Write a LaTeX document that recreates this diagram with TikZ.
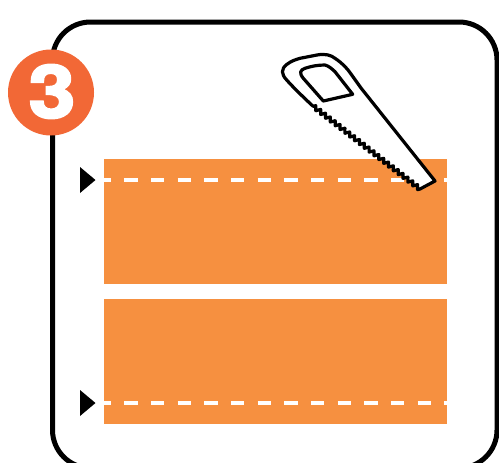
\documentclass[tikz,border=0pt]{standalone}
\usepackage{fontspec}
\newfontfamily\badgefont{TeX Gyre Heros Bold}[FakeBold=3]
\usetikzlibrary{decorations.pathmorphing}
\definecolor{band}{HTML}{F69040}
\definecolor{badge}{HTML}{F26836}
\tikzset{
  x=0.75pt,y=-0.75pt,
  frameline/.style={draw=black,line width=3.75pt,rounded corners=28.5pt},
  bandbox/.style={fill=band,draw=none},
  cutline/.style={draw=white,line width=2.8pt,dash pattern=on 10pt off 10pt,dash phase=4.75pt},
  marker/.style={fill=black,draw=none},
  sawline/.style={draw=black,line width=2.4pt,line join=round,fill=white},
}
\begin{document}
\begin{tikzpicture}
\useasboundingbox (0,0) rectangle (499,462);
\clip (0,0) rectangle (499,462);
\fill[white] (0,0) rectangle (499,462);
\draw[frameline] (52.5,22) rectangle (497,468);
\fill[bandbox] (104,159) rectangle (447,284);
\fill[bandbox] (104,299) rectangle (447,424);
\draw[cutline] (104,180) -- (447,180);
\draw[cutline] (104,403) -- (447,403);
\fill[marker] (80,167) -- (95.5,180) -- (80,193) -- cycle;
\fill[marker] (80,390) -- (95.5,403) -- (80,416) -- cycle;
\node[circle,fill=badge,draw=none,minimum size=64.5pt,inner sep=0pt] (badge3) at (51,92.5) {};
\node[text=white,inner sep=0pt] (num3) at (52,91.5) {\scalebox{1.14}[1]{\fontsize{55pt}{55pt}\badgefont 3}};
\draw[sawline] (311.7,105)
  .. controls (300,94) and (292,86) .. (286.7,80)
  .. controls (281,74) and (281,69) .. (286.7,64.5)
  .. controls (291,61) and (296,59.5) .. (300,58.3)
  -- (317,55)
  .. controls (325,53.5) and (331,55) .. (335,58.3)
  .. controls (342,63) and (347,68) .. (351,74)
  -- (361,88)
  -- (435,181) -- (420,189)
  decorate[decoration={zigzag,segment length=4.6pt,amplitude=1.5pt}] { -- (311.7,105) }
  -- cycle;
\draw[sawline,fill=none] (323.3,101) -- (303.3,78.3)
  .. controls (299,73) and (300,70) .. (305,68.3)
  .. controls (312,66) and (318,65) .. (325,65)
  .. controls (329,66) and (332,69) .. (335,71.7)
  -- (352.7,94.3) -- cycle;
\end{tikzpicture}
\end{document}
